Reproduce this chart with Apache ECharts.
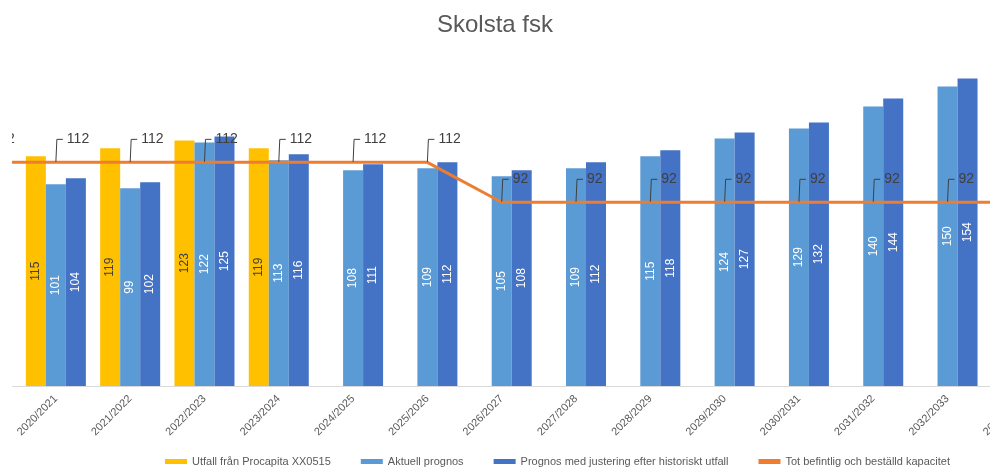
<!DOCTYPE html>
<html>
<head>
<meta charset="utf-8">
<script src="https://cdn.jsdelivr.net/npm/echarts@6/dist/echarts.min.js"></script>
<style>
html,body{margin:0;padding:0;background:#fff;}
#c{width:990px;height:472px;}
</style>
</head>
<body>
<div id="c"></div>
<script>
// Categories (first and last are only partly visible at the cropped edges)
const categories = ['2019/2020','2020/2021','2021/2022','2022/2023','2023/2024','2024/2025','2025/2026','2026/2027','2027/2028','2028/2029','2029/2030','2030/2031','2031/2032','2032/2033','2033/2034'];
const utfall     = [null,115,119,123,119,null,null,null,null,null,null,null,null,null,null];
const aktuell    = [null,101,99,122,113,108,109,105,109,115,124,129,140,150,null];
const justering  = [null,104,102,125,116,111,112,108,112,118,127,132,144,154,null];
const kapacitet  = [112,112,112,112,112,112,112,92,92,92,92,92,92,92,92];
const seriesNames = ['Utfall från Procapita XX0515','Aktuell prognos','Prognos med justering efter historiskt utfall','Tot befintlig och beställd kapacitet'];

const FONT = 'Liberation Sans, Arial, sans-serif';
const chart = echarts.init(document.getElementById('c'), null, {renderer:'canvas'});

function barSeries(name, data, color, labelColor) {
  return {
    name: name, type: 'bar', data: data,
    barWidth: 20, barGap: '0%',
    itemStyle: {color: color},
    label: {show: true, position: 'inside', rotate: 90, color: labelColor,
            fontSize: 12, fontFamily: FONT},
    emphasis: {disabled: true}
  };
}

chart.setOption({
  animation: false,
  backgroundColor: '#ffffff',
  title: {
    text: 'Skolsta fsk', left: 'center', top: 8,
    textStyle: {fontFamily: FONT, fontSize: 24, fontWeight: 'normal', color: '#595959'}
  },
  legend: {
    left: 165, top: 456, padding: 0, itemWidth: 22, itemHeight: 5, itemGap: 30, icon: 'rect',
    textStyle: {fontFamily: FONT, fontSize: 11, color: '#595959'},
    data: seriesNames
  },
  grid: {left: -55.6, right: -69.0, top: 66.5, bottom: 86, containLabel: false, outerBoundsMode: 'none'},
  xAxis: {
    type: 'category', data: categories,
    axisLine: {show: true, lineStyle: {color: '#d9d9d9', width: 1}},
    axisTick: {show: false},
    axisLabel: {interval: 0, rotate: 45, margin: 11, color: '#595959', fontSize: 11, fontFamily: FONT}
  },
  yAxis: {
    type: 'value', min: 0, max: 160, show: false,
    splitLine: {show: false}
  },
  graphic: [{
    type: 'rect', left: 0, top: 0, z: 100,
    shape: {width: 12, height: 400}, style: {fill: '#ffffff'}
  }],
  series: [
    barSeries(seriesNames[0], utfall, '#FFC000', '#404040'),
    barSeries(seriesNames[1], aktuell, '#5B9BD5', '#ffffff'),
    barSeries(seriesNames[2], justering, '#4472C4', '#ffffff'),
    {
      name: seriesNames[3], type: 'line', data: kapacitet,
      symbol: 'circle', symbolSize: 1, showSymbol: true, clip: false,
      itemStyle: {color: '#ED7D31'},
      lineStyle: {color: '#ED7D31', width: 3},
      label: {show: true, position: 'right', distance: 0, color: '#404040',
              fontSize: 14, fontFamily: FONT,
              backgroundColor: 'transparent', padding: [30, 0, 30, 4]},
      labelLayout: {dx: 6.5, dy: -23},
      labelLine: {show: true, length2: 6, lineStyle: {color: '#404040', width: 1}},
      emphasis: {disabled: true},
      z: 5
    }
  ]
});
</script>
</body>
</html>
